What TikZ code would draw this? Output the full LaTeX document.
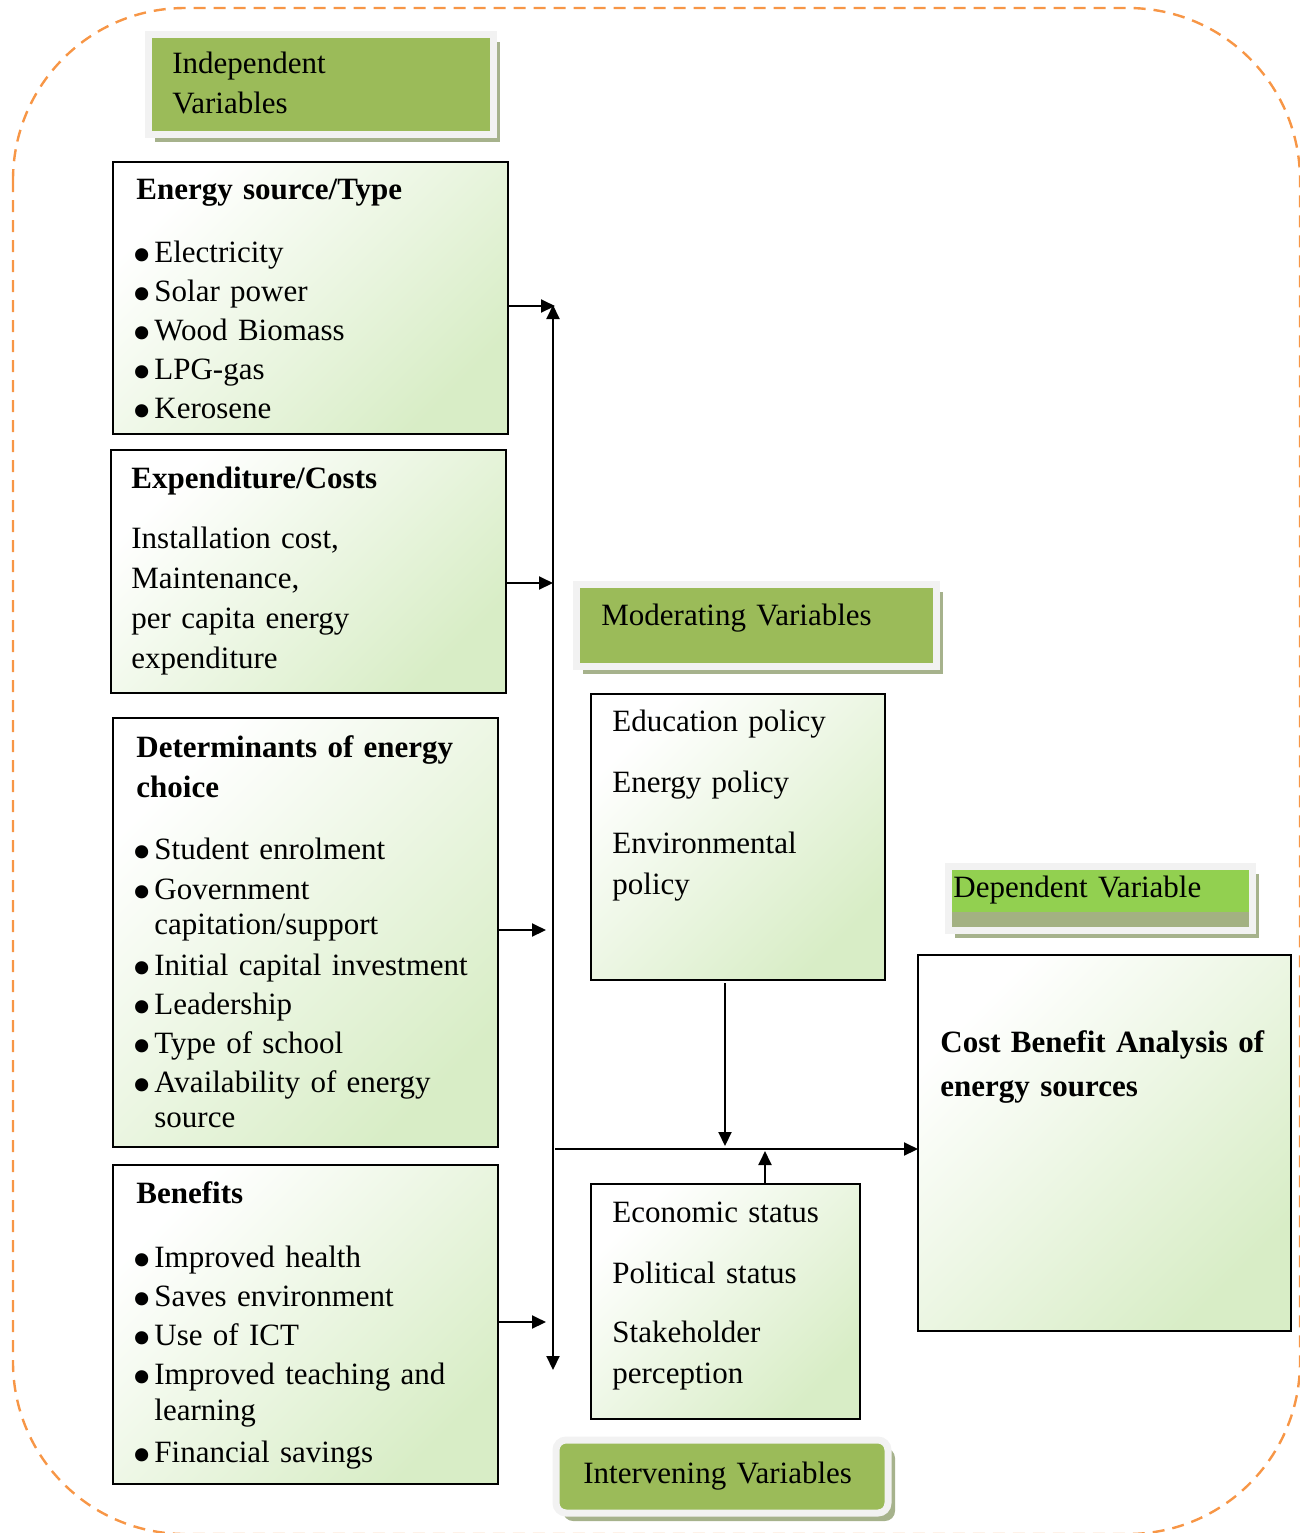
\documentclass[tikz,border=0pt]{standalone}
\usepackage{fontspec}
\setmainfont{Liberation Serif}
\usetikzlibrary{arrows.meta,shadows}

\definecolor{headgreen}{RGB}{155,187,89}
\definecolor{depgreen}{RGB}{146,208,80}
\definecolor{depgray}{RGB}{163,177,130}
\definecolor{shadegreen}{RGB}{166,178,140}
\definecolor{framegray}{RGB}{242,242,242}
\definecolor{boxgreen}{RGB}{216,237,198}
\definecolor{outline}{RGB}{247,150,70}

\newcommand{\bitem}{\makebox[9pt][l]{\hspace{-1.8pt}\raisebox{-5.9pt}{\fontsize{27.5}{27.5}\selectfont\textbullet}}}
\newcommand{\bcont}{\hspace*{9pt}}

\begin{document}
\begin{tikzpicture}[x=0.5pt,y=-0.5pt,
  box/.style={draw,line width=1pt,outer sep=0pt,anchor=north west,top color=white,bottom color=boxgreen,shading angle=45},
  varhead/.style={fill=headgreen,draw=framegray,line width=3.5pt,outer sep=0pt,anchor=north west,
    drop shadow={shadow xshift=3.5pt,shadow yshift=-4pt,fill=shadegreen,opacity=1}},
  txt/.style={anchor=base west,inner sep=0pt,text width=230pt,align=left,font=\fontsize{15.5}{17.5}\selectfont},
  arr/.style={-{Triangle[length=7pt,width=6.5pt]},line width=1pt},
  biarr/.style={{Triangle[length=7pt,width=6.5pt]}-{Triangle[length=7pt,width=6.5pt]},line width=1pt}]
\useasboundingbox (0,0) rectangle (1300,1533);
\draw[outline,line width=1.2pt,dash pattern=on 6pt off 4pt,rounded corners=86pt] (13,8) rectangle (1300,1534);

% headers
\node[varhead,minimum width=172.5pt,minimum height=50pt] (indep-head) at (148,34) {};
\node[txt] (indep-t) at (172,73) {Independent\\[2.5pt]Variables};
\node[varhead,minimum width=180pt,minimum height=41pt] (mod-head) at (576,584) {};
\node[txt] (mod-ht) at (601,625) {Moderating Variables};
\node[varhead,fill=depgray,minimum width=152pt,minimum height=32pt] (dep-head) at (948,866) {};
\fill[depgreen] (952,870) rectangle (1249,912);
\node[txt] (dep-ht) at (953,897) {Dependent Variable};
\node[varhead,rounded corners=5pt,minimum width=166pt,minimum height=36.5pt] (int-head) at (556,1440) {};
\node[txt] (int-ht) at (583,1483) {Intervening Variables};

% independent variables
\node[box,minimum width=197.5pt,minimum height=136pt] (energy) at (113,162) {};
\node[txt] (energy-t) at (136,199) {\textbf{Energy source/Type}\\[14pt]
  \bitem Electricity\\[2pt]\bitem Solar power\\[2pt]\bitem Wood Biomass\\[2pt]
  \bitem LPG-gas\\[2pt]\bitem Kerosene};
\node[box,minimum width=197.5pt,minimum height=121.5pt] (expend) at (111,450) {};
\node[txt] (expend-t) at (131,488) {\textbf{Expenditure/Costs}\\[12.5pt]
  Installation cost,\\[2.5pt]Maintenance,\\[2.5pt]per capita energy\\[2.5pt]expenditure};
\node[box,minimum width=192.5pt,minimum height=214.5pt] (determ) at (113,718) {};
\node[txt] (determ-t) at (136,757) {\textbf{Determinants of energy}\\[2.5pt]\textbf{choice}\\[13.5pt]
  \bitem Student enrolment\\[2.5pt]\bitem Government\\\bcont capitation/support\\[3pt]
  \bitem Initial capital investment\\[2pt]\bitem Leadership\\[2pt]\bitem Type of school\\[2pt]
  \bitem Availability of energy\\\bcont source};
\node[box,minimum width=192.5pt,minimum height=159.5pt] (benef) at (113,1165) {};
\node[txt] (benef-t) at (136,1203) {\textbf{Benefits}\\[14.5pt]
  \bitem Improved health\\[2pt]\bitem Saves environment\\[2pt]\bitem Use of ICT\\[2pt]
  \bitem Improved teaching and\\[0.5pt]\bcont learning\\[3.5pt]\bitem Financial savings};

% moderating, intervening, dependent
\node[box,minimum width=147pt,minimum height=143pt] (moder) at (591,694) {};
\node[txt] (moder-t) at (612,731) {Education policy\\[13pt]Energy policy\\[13pt]Environmental\\[3pt]policy};
\node[box,minimum width=134.5pt,minimum height=117.5pt] (interv) at (591,1184) {};
\node[txt] (interv-t) at (612,1222) {Economic status\\[13pt]Political status\\[12pt]Stakeholder\\[3pt]perception};
\node[box,minimum width=186.5pt,minimum height=188pt] (depend) at (918,955) {};
\node[txt] (depend-t) at (940,1052) {\textbf{Cost Benefit Analysis of}\\[4.5pt]\textbf{energy sources}};

% connectors
\coordinate (bus-top) at (553,305);
\coordinate (bus-bot) at (553,1370);
\coordinate (join) at (555,1149);
\draw[biarr] (bus-bot) -- (bus-top);
\foreach \b/\dy/\dx in {energy/-4/1,expend/-5.75/0,determ/1.25/-3.5,benef/1.25/-3.5}
  \draw[arr] ([yshift=\dy pt]\b.east) -- ([yshift=\dy pt,xshift=\dx pt]\b.east -| bus-top);
\draw[arr] (join) -- (join -| depend.west);
\draw[arr] ([xshift=-6.5pt,yshift=-1.5pt]moder.south) -- ([xshift=-6.5pt,yshift=1.5pt]moder.south |- join);
\draw[arr] ([xshift=19.75pt]interv.north) -- ([xshift=19.75pt,yshift=-1pt]interv.north |- join);
\end{tikzpicture}
\end{document}
